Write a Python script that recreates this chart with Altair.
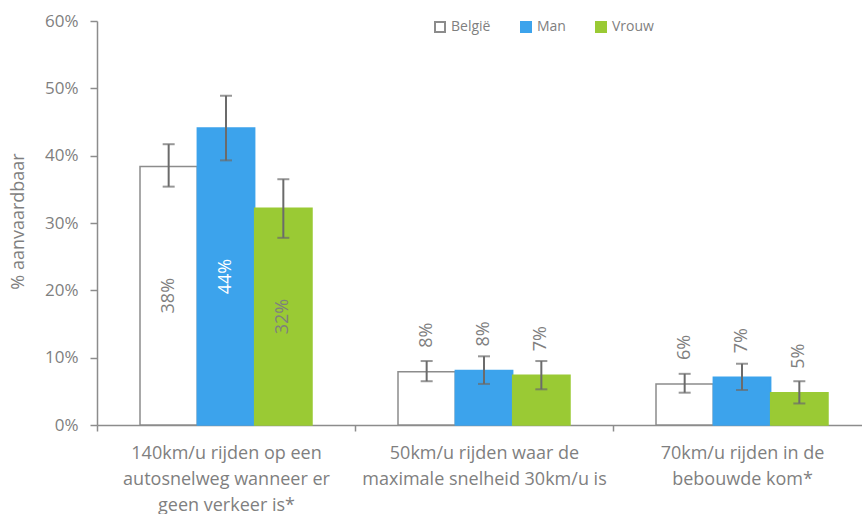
import altair as alt
import pandas as pd

# Survey categories (line breaks marked with "|") and the three series
categories = [
    "140km/u rijden op een|autosnelweg wanneer er|geen verkeer is*",
    "50km/u rijden waar de|maximale snelheid 30km/u is",
    "70km/u rijden in de|bebouwde kom*",
]
series = ["België", "Man", "Vrouw"]

# Share of respondents finding the behaviour acceptable, with confidence bounds
belgie = [0.384, 0.079, 0.061]
belgie_lo = [0.354, 0.065, 0.048]
belgie_hi = [0.417, 0.095, 0.076]

man = [0.441, 0.081, 0.071]
man_lo = [0.393, 0.061, 0.052]
man_hi = [0.489, 0.102, 0.091]

vrouw = [0.322, 0.074, 0.048]
vrouw_lo = [0.278, 0.053, 0.032]
vrouw_hi = [0.365, 0.095, 0.065]

y_ticks = [0, 0.1, 0.2, 0.3, 0.4, 0.5, 0.6]

fills = ["#ffffff", "#3ca3ec", "#9aca34"]
strokes = ["#8c8c8c", "#3ca3ec", "#9aca34"]
grey_text = "#7f7f7f"
axis_grey = "#8c8c8c"
FONT = "Open Sans"

rows = []
for name, vals, los, his in [
    ("België", belgie, belgie_lo, belgie_hi),
    ("Man", man, man_lo, man_hi),
    ("Vrouw", vrouw, vrouw_lo, vrouw_hi),
]:
    for cat, v, lo, hi in zip(categories, vals, los, his):
        rows.append({"category": cat, "series": name, "value": v, "lo": lo, "hi": hi})
df = pd.DataFrame(rows)

base = alt.Chart(df)

x_enc = alt.X(
    "category:N",
    sort=categories,
    title=None,
    scale=alt.Scale(range=[0, 774], paddingInner=0, paddingOuter=0),
    axis=alt.Axis(
        labelExpr="split(datum.label, '|')",
        labelAngle=0,
        labelFont=FONT,
        labelFontSize=18,
        labelColor=grey_text,
        labelLineHeight=26,
        labelBaseline="top",
        labelPadding=13,
        labelLimit=400,
        tickBand="extent",
        tickSize=6,
        tickColor=axis_grey,
        tickWidth=1.5,
        domainColor=axis_grey,
        domainWidth=1.5,
    ),
)
xo_enc = alt.XOffset(
    "series:N", sort=series, scale=alt.Scale(paddingInner=0, paddingOuter=0.75)
)
y_axis = alt.Axis(
    values=y_ticks,
    format=".0%",
    grid=False,
    labelFont=FONT,
    labelFontSize=17,
    labelColor=grey_text,
    labelPadding=12,
    tickSize=7,
    tickColor=axis_grey,
    tickWidth=1.5,
    domainColor=axis_grey,
    domainWidth=1.5,
    titleFont=FONT,
    titleFontSize=18,
    titleFontWeight="normal",
    titleColor=grey_text,
    titleX=-79,
    titleY=200,
    titleAlign="center",
    titleBaseline="middle",
    titleAngle=270,
)
y_scale = alt.Scale(domain=[0, 0.6])
TITLE = "% aanvaardbaar"

legend = alt.Legend(
    title=None,
    orient="none",
    legendX=336,
    legendY=-1,
    direction="horizontal",
    symbolType="square",
    symbolSize=100,
    symbolStrokeWidth=2,
    labelFont=FONT,
    labelFontSize=14,
    labelColor=grey_text,
    labelOffset=4,
    columnPadding=26,
)

bars = base.mark_bar(strokeWidth=1.5).encode(
    x=x_enc,
    xOffset=xo_enc,
    y=alt.Y("value:Q", scale=y_scale, axis=y_axis, title=TITLE),
    fill=alt.Fill("series:N", sort=series, scale=alt.Scale(domain=series, range=fills), legend=legend),
    stroke=alt.Stroke("series:N", sort=series, scale=alt.Scale(domain=series, range=strokes), legend=legend),
)

err_rule = base.mark_rule(color="#6b6b6b", strokeWidth=2).encode(
    x=x_enc,
    xOffset=xo_enc,
    y=alt.Y("lo:Q", scale=y_scale, axis=y_axis, title=TITLE),
    y2="hi:Q",
)
err_lo = base.mark_tick(color="#6b6b6b", size=12, thickness=2).encode(
    x=x_enc,
    xOffset=xo_enc,
    y=alt.Y("lo:Q", scale=y_scale, axis=y_axis, title=TITLE),
)
err_hi = base.mark_tick(color="#6b6b6b", size=12, thickness=2).encode(
    x=x_enc,
    xOffset=xo_enc,
    y=alt.Y("hi:Q", scale=y_scale, axis=y_axis, title=TITLE),
)

# Tall bars carry their label inside, centred; short bars get it above
labels_inside = (
    base.transform_filter(alt.datum.category == categories[0])
    .transform_calculate(mid="datum.value / 2")
    .mark_text(angle=270, align="center", baseline="middle", font=FONT, fontSize=18)
    .encode(
        x=x_enc,
        xOffset=xo_enc,
        y=alt.Y("mid:Q", scale=y_scale, axis=y_axis, title=TITLE),
        text=alt.Text("value:Q", format=".0%"),
        color=alt.condition(alt.datum.series == "Man", alt.value("#ffffff"), alt.value(grey_text)),
    )
)
labels_above = (
    base.transform_filter(alt.datum.category != categories[0])
    .mark_text(angle=270, align="left", baseline="middle", dx=24, font=FONT, fontSize=18, color=grey_text)
    .encode(
        x=x_enc,
        xOffset=xo_enc,
        y=alt.Y("value:Q", scale=y_scale, axis=y_axis, title=TITLE),
        text=alt.Text("value:Q", format=".0%"),
    )
)

chart = (
    alt.layer(bars, err_rule, err_lo, err_hi, labels_inside, labels_above)
    .properties(
        width=765,
        height=404,
        autosize=alt.AutoSizeParams(type="none"),
        padding={"left": 97, "top": 21, "right": 0, "bottom": 89},
        background="white",
    )
    .configure_view(stroke=None)
)

chart.save("out.html", embed_options={"renderer": "svg", "actions": False})
